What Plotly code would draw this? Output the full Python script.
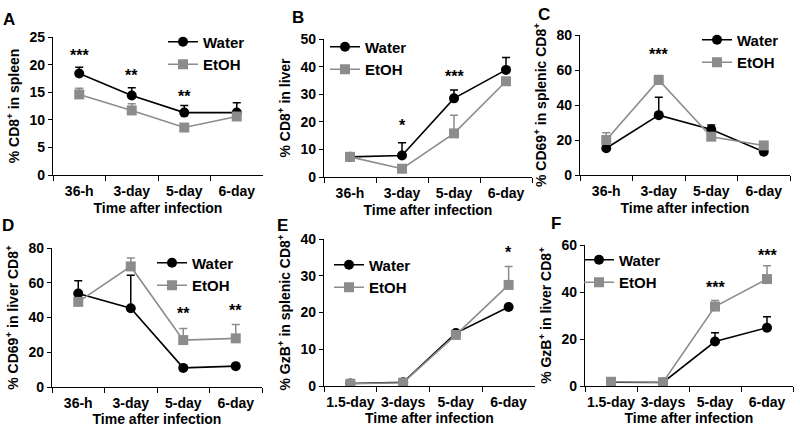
import plotly.graph_objects as go

cats_a = ["36-h", "3-day", "5-day", "6-day"]
cats_e = ["1.5-day", "3-days", "5-day", "6-day"]

# Panel A: % CD8+ in spleen
a_water = [18.4, 14.4, 11.3, 11.3]
a_water_err = [1.1, 1.4, 1.3, 1.8]
a_etoh = [14.6, 11.7, 8.6, 10.6]
a_etoh_err = [1.1, 1.2, 0.4, 0.4]
a_stars = ["***", "**", "**", ""]
a_star_y = [21.6, 18.0, 14.3, 0]

# Panel B: % CD8+ in liver
b_water = [7.3, 7.8, 28.5, 38.8]
b_water_err = [0.8, 4.6, 3.0, 4.5]
b_etoh = [7.3, 3.0, 15.8, 34.7]
b_etoh_err = [1.0, 0.4, 6.6, 1.2]
b_stars = ["", "*", "***", ""]
b_star_y = [0, 18.8, 36.4, 0]

# Panel C: % CD69+ in splenic CD8+
c_water = [15.3, 34.2, 26.0, 13.3]
c_water_err = [0.5, 10.2, 2.6, 0.5]
c_etoh = [20.0, 54.3, 21.9, 16.9]
c_etoh_err = [4.2, 2.5, 0.5, 0.5]
c_stars = ["", "***", "", ""]
c_star_y = [0, 69.0, 0, 0]

# Panel D: % CD69+ in liver CD8+
d_water = [53.8, 45.3, 11.0, 12.0]
d_water_err = [7.3, 19.0, 0.5, 0.5]
d_etoh = [49.0, 69.4, 27.0, 28.0]
d_etoh_err = [0.5, 4.8, 6.7, 8.0]
d_stars = ["", "*", "**", "**"]
d_star_y = [0, 81.0, 42.4, 44.3]

# Panel E: % GzB+ in splenic CD8+
e_water = [0.7, 1.0, 14.4, 21.5]
e_water_err = [0.2, 0.2, 0.5, 0.3]
e_etoh = [0.6, 0.9, 13.9, 27.5]
e_etoh_err = [0.2, 0.2, 0.5, 5.0]
e_stars = ["", "", "", "*"]
e_star_y = [0, 0, 0, 36.2]

# Panel F: % GzB+ in liver CD8+
f_water = [1.6, 1.5, 18.9, 24.8]
f_water_err = [0.5, 0.3, 3.8, 4.7]
f_etoh = [1.8, 1.6, 33.8, 45.5]
f_etoh_err = [0.5, 0.5, 2.6, 5.7]
f_stars = ["", "", "***", "***"]
f_star_y = [0, 0, 42.0, 55.7]

W, H = 800, 430
FONT = "Liberation Sans, Arial, sans-serif"
BLACK = "#000000"
GRAY = "#8c8c8c"

panels = [
    dict(letter="A", cats=cats_a, w=a_water, we=a_water_err, e=a_etoh, ee=a_etoh_err,
         stars=a_stars, sy=a_star_y, ymax=25, dtick=5,
         ytitle="% CD8<sup>+</sup> in spleen", xstand=5,
         px=(53, 263), py=(37, 175), letter_xy=(9, 19), leg=(205, 44)),
    dict(letter="B", cats=cats_a, w=b_water, we=b_water_err, e=b_etoh, ee=b_etoh_err,
         stars=b_stars, sy=b_star_y, ymax=50, dtick=10,
         ytitle="% CD8<sup>+</sup> in liver", xstand=5,
         px=(324, 532), py=(39, 177), letter_xy=(298, 18), leg=(367, 49)),
    dict(letter="C", cats=cats_a, w=c_water, we=c_water_err, e=c_etoh, ee=c_etoh_err,
         stars=c_stars, sy=c_star_y, ymax=80, dtick=20,
         ytitle="% CD69<sup>+</sup> in splenic CD8<sup>+</sup>", xstand=5,
         px=(580, 790), py=(35, 175), letter_xy=(544, 15), leg=(739, 42)),
    dict(letter="D", cats=cats_a, w=d_water, we=d_water_err, e=d_etoh, ee=d_etoh_err,
         stars=d_stars, sy=d_star_y, ymax=80, dtick=20,
         ytitle="% CD69<sup>+</sup> in liver CD8<sup>+</sup>", xstand=1,
         px=(52, 262), py=(248, 387), letter_xy=(8, 225), leg=(194, 265)),
    dict(letter="E", cats=cats_e, w=e_water, we=e_water_err, e=e_etoh, ee=e_etoh_err,
         stars=e_stars, sy=e_star_y, ymax=40, dtick=10,
         ytitle="% GzB<sup>+</sup> in splenic CD8<sup>+</sup>", xstand=0,
         px=(324, 535), py=(239, 386), letter_xy=(282, 225), leg=(371, 267)),
    dict(letter="F", cats=cats_e, w=f_water, we=f_water_err, e=f_etoh, ee=f_etoh_err,
         stars=f_stars, sy=f_star_y, ymax=60, dtick=20,
         ytitle="% GzB<sup>+</sup> in liver CD8<sup>+</sup>", xstand=0,
         px=(585, 793), py=(245, 386), letter_xy=(556, 223), leg=(621, 262)),
]

fig = go.Figure()
annotations = []
layout = {}

for i, p in enumerate(panels):
    n = i + 1
    xa = "x" if n == 1 else f"x{n}"
    ya = "y" if n == 1 else f"y{n}"
    lg = "legend" if n == 1 else f"legend{n}"
    for name, vals, errs, color, sym, size in [
        ("Water", p["w"], p["we"], BLACK, "circle", 10),
        ("EtOH", p["e"], p["ee"], GRAY, "square", 10),
    ]:
        fig.add_trace(go.Scatter(
            x=p["cats"], y=vals, name=name, mode="lines+markers",
            xaxis=xa, yaxis=ya, legend=lg,
            line=dict(color=color, width=1.6),
            marker=dict(color=color, symbol=sym, size=size),
            error_y=dict(type="data", symmetric=False, array=errs,
                         arrayminus=[0] * len(errs), color=color,
                         thickness=1.5, width=4),
        ))
    axis_font = dict(family=FONT, size=14, color=BLACK, weight="bold")
    layout["xaxis" if n == 1 else f"xaxis{n}"] = dict(
        domain=[p["px"][0] / W, p["px"][1] / W], anchor=ya,
        type="category", categoryorder="array", categoryarray=p["cats"],
        range=[-0.5, 3.5], tickson="boundaries", ticks="outside", ticklen=5,
        tickwidth=1.3, tickcolor=BLACK, showline=True, linecolor=BLACK,
        linewidth=1.3, showgrid=False, zeroline=False, tickfont=axis_font,
        tickangle=0, ticklabelstandoff=3,
        title=dict(text="Time after infection", font=axis_font, standoff=p["xstand"]),
        automargin=False, fixedrange=True,
    )
    layout["yaxis" if n == 1 else f"yaxis{n}"] = dict(
        domain=[1 - p["py"][1] / H, 1 - p["py"][0] / H], anchor=xa,
        range=[0, p["ymax"]], dtick=p["dtick"], ticks="outside", ticklen=4,
        tickwidth=1.3, tickcolor=BLACK, showline=True, linecolor=BLACK,
        linewidth=1.3, showgrid=False, zeroline=False, tickfont=axis_font,
        title=dict(text=p["ytitle"], font=dict(family=FONT, size=14, color=BLACK, weight="bold"), standoff=6),
        automargin=False, fixedrange=True,
    )
    layout[lg] = dict(
        x=(p["leg"][0] - 42) / W, y=1 - (p["leg"][1] - 18.5) / H,
        xanchor="left", yanchor="top", bgcolor="rgba(0,0,0,0)",
        font=dict(family=FONT, size=15, color=BLACK, weight="bold"),
        itemwidth=30, tracegroupgap=0,
    )
    annotations.append(dict(
        text=p["letter"], xref="paper", yref="paper",
        x=p["letter_xy"][0] / W, y=1 - p["letter_xy"][1] / H,
        xanchor="center", yanchor="middle", showarrow=False,
        font=dict(family=FONT, size=17, color=BLACK, weight="bold"),
    ))
    for c, s, yv in zip(p["cats"], p["stars"], p["sy"]):
        if s:
            annotations.append(dict(
                text=s, xref=xa, yref=ya, x=c, y=yv,
                xanchor="center", yanchor="middle", showarrow=False,
                font=dict(family=FONT, size=16, color=BLACK, weight="bold"),
            ))

fig.update_layout(
    width=W, height=H, margin=dict(l=0, r=0, t=0, b=0),
    paper_bgcolor="white", plot_bgcolor="white",
    annotations=annotations, **layout,
)

fig.write_html("out.html", config={"displayModeBar": False},
               post_script="document.body.style.margin='0';")
